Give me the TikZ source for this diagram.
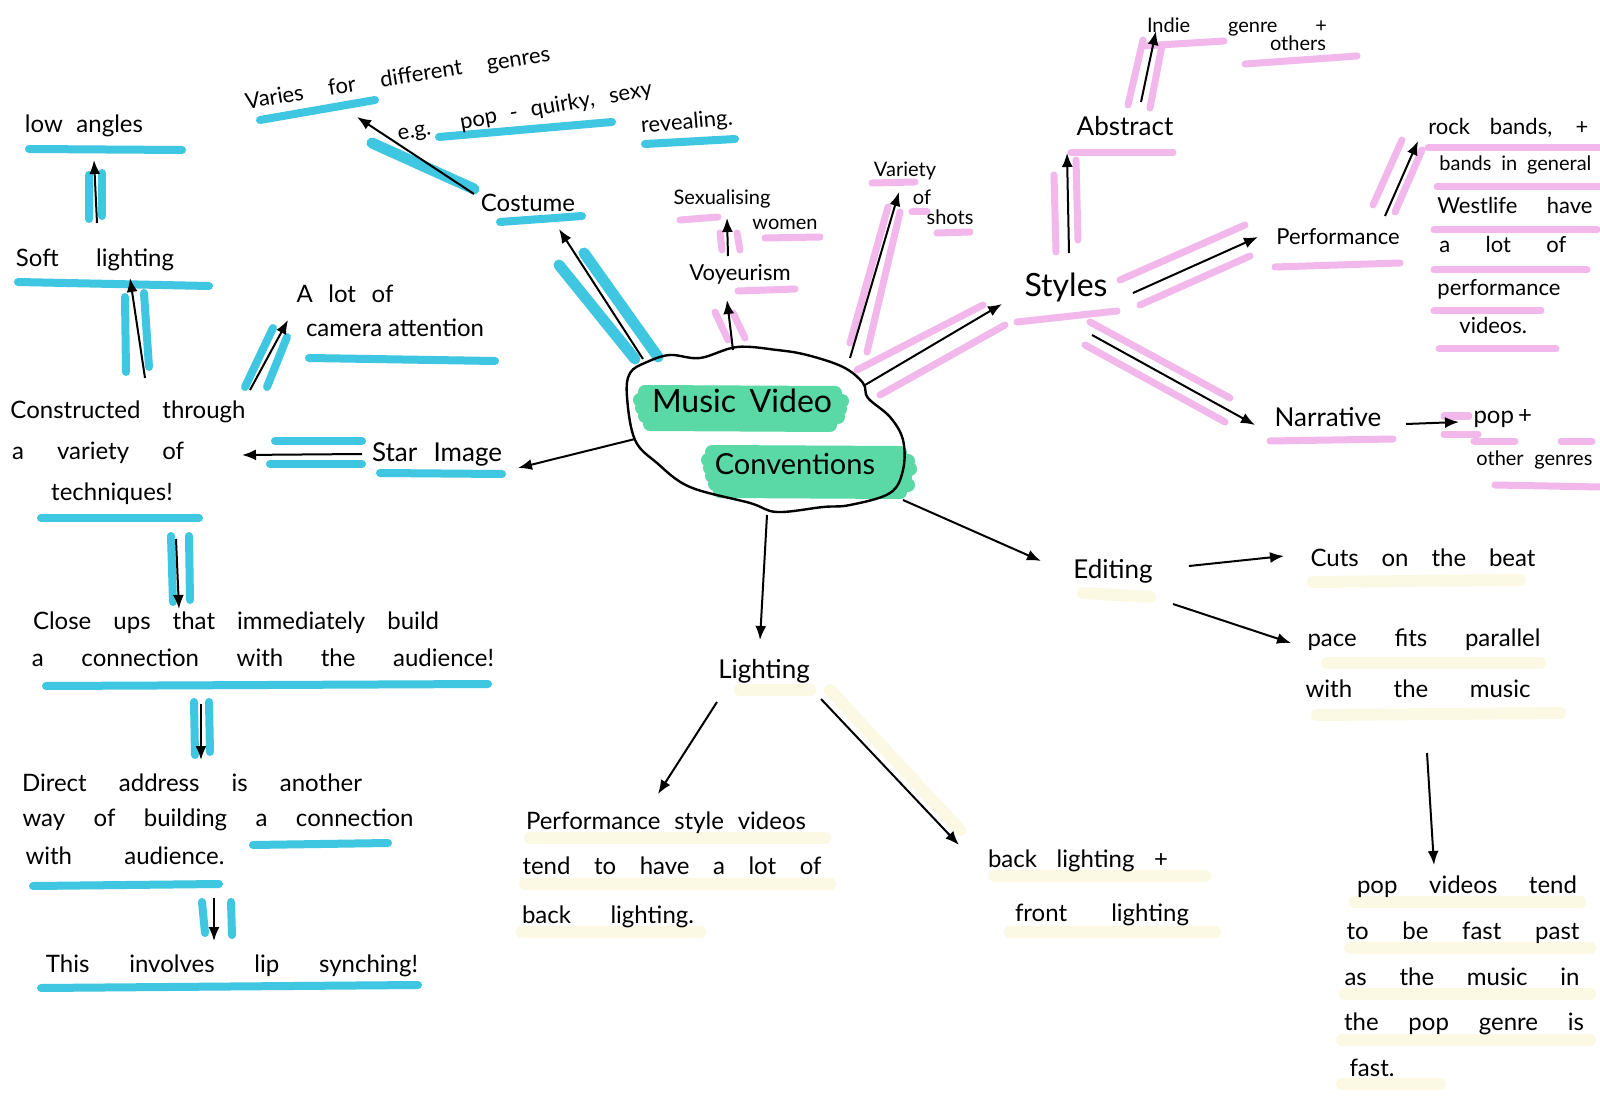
\documentclass[tikz,border=0pt]{standalone}
\usepackage{fontspec}
\setmainfont{Lato}
\usetikzlibrary{arrows.meta,calc}
\definecolor{hcyan}{HTML}{3FC6E0}
\definecolor{hpink}{HTML}{F2B8EC}
\definecolor{hgreen}{HTML}{5AD8A6}
\definecolor{hyel}{HTML}{FBF9E3}
\newdimen\pxu \pxu=0.5pt
\newcommand{\hwl}[2]{\makebox[#1\pxu][s]{#2}}
\tikzset{
  txt/.style={inner sep=0pt, text height=.75em, text depth=.25em, font=\fontsize{12}{14}\selectfont},
  rk/.style={txt, font=\fontsize{11}{13}\selectfont},
  sml/.style={txt, font=\fontsize{10}{12}\selectfont},
  lbl/.style={txt, font=\fontsize{13}{15}\selectfont},
  big/.style={txt, font=\fontsize{16}{19}\selectfont},
  arr/.style={-{Latex[length=7pt,width=5.5pt]}, line width=1pt, black},
  hc/.style={line width=4pt, line cap=round, hcyan},
  hcb/.style={line width=5.5pt, line cap=round, hcyan},
  hp/.style={line width=3.5pt, line cap=round, hpink},
  hy/.style={line width=6pt, line cap=round, hyel},
  hg/.style={line width=7pt, line cap=round, hgreen},
}
\begin{document}
\begin{tikzpicture}[x=0.5pt,y=-0.5pt]
\useasboundingbox (0,0) rectangle (1600,1101);
\clip (0,0) rectangle (1600,1101);
\fill[white] (0,0) rectangle (1600,1101);

% ---------- cyan highlights ----------
\draw[hc] (29,149) -- (182,150);
\draw[hc] (89,175) -- (89,219);  \draw[hc] (102,173) -- (102,216);
\draw[hc] (18,282) -- (209,286);
\draw[hc] (125,297) -- (126,372); \draw[hc] (144,293) -- (149,367);
\draw[hc] (245,387) -- (273,328); \draw[hc] (267,387) -- (287,337);
\draw[hc] (309,358) -- (495,361);
\draw[hc] (41,518) -- (199,518);
\draw[hc] (275,441) -- (362,441); \draw[hc] (270,464) -- (362,464);
\draw[hc] (380,473) -- (502,474);
\draw[hc] (171,536) -- (173,602); \draw[hc] (189,536) -- (190,600);
\draw[hc] (46,686) -- (488,684);
\draw[hc] (194,702) -- (195,755); \draw[hc] (209,702) -- (210,752);
\draw[hc] (253,845) -- (388,843);
\draw[hc] (33,886) -- (219,884);
\draw[hc] (202,902) -- (205,933); \draw[hc] (231,902) -- (232,935);
\draw[hc] (41,988) -- (418,985);
\draw[hc] (500,222) -- (582,216);
\draw[hcb] (559,265) -- (635,359); \draw[hcb] (584,253) -- (658,357);
\draw[hcb] (372,143) -- (474,189);
\draw[hc] (260,120) -- (375,100);
\draw[hc] (439,137) -- (612,122);
\draw[hc] (645,144) -- (735,139);

% ---------- pink highlights ----------
\draw[hp] (738,291) -- (795,289);
\draw[hp] (715,312) -- (728,340); \draw[hp] (733,313) -- (745,338);
\draw[hp] (680,220) -- (718,217); \draw[hp] (765,238) -- (820,237);
\draw[hp] (720,233) -- (722,250); \draw[hp] (737,233) -- (740,250);
\draw[hp] (872,183) -- (915,182); \draw[hp] (912,212) -- (927,212); \draw[hp] (937,233) -- (970,232);
\draw[hp] (850,343) -- (888,207); \draw[hp] (867,352) -- (900,212);
\draw[hp] (857,370) -- (983,305); \draw[hp] (880,395) -- (1005,325);
\draw[hp] (1017,322) -- (1117,311);
\draw[hp] (1071,153) -- (1173,153);
\draw[hp] (1054,175) -- (1056,252); \draw[hp] (1076,160) -- (1078,240);
\draw[hp] (1128,105) -- (1143,40); \draw[hp] (1150,108) -- (1162,45);
\draw[hp] (1143,46) -- (1224,41); \draw[hp] (1245,64) -- (1357,56);
\draw[hp] (1120,280) -- (1245,225); \draw[hp] (1140,305) -- (1250,256);
\draw[hp] (1275,267) -- (1400,263);
\draw[hp] (1373,205) -- (1402,140); \draw[hp] (1395,212) -- (1422,150);
\draw[hp] (1428,148) -- (1600,148);
\draw[hp] (1437,187) -- (1600,187);
\draw[hp] (1434,230) -- (1597,230);
\draw[hp] (1434,270) -- (1587,270);
\draw[hp] (1434,311) -- (1541,311);
\draw[hp] (1439,349) -- (1556,349);
\draw[hp] (1090,322) -- (1230,398); \draw[hp] (1085,345) -- (1225,422);
\draw[hp] (1270,441) -- (1393,439);
\draw[hp] (1444,416) -- (1469,416); \draw[hp] (1444,434) -- (1478,434);
\draw[hp] (1474,441) -- (1515,441); \draw[hp] (1561,441) -- (1592,441);
\draw[hp] (1495,485) -- (1600,487);

% ---------- pale yellow highlights ----------
\draw[hy] (1083,593) -- (1150,597);
\draw[hy] (1313,582) -- (1520,580);
\draw[hy] (1327,663) -- (1540,663);
\draw[hy] (1317,715) -- (1560,713);
\draw[hy] (1355,902) -- (1580,902);
\draw[hy] (1350,948) -- (1590,948);
\draw[hy] (1345,994) -- (1590,994);
\draw[hy] (1342,1040) -- (1590,1040);
\draw[hy] (1342,1084) -- (1440,1084);
\draw[hy] (740,690) -- (810,690);
\draw[hy] (530,838) -- (825,838);
\draw[hy] (525,884) -- (830,884);
\draw[hy] (522,932) -- (700,932);
\draw[hy] (995,876) -- (1205,876);
\draw[hy] (1010,932) -- (1215,932);
\draw[hy] (830,690) -- (960,830);

% ---------- centre cloud ----------
\foreach \yy/\xa/\xb in {392/645/835, 400/640/842, 408/642/840, 416/645/838, 424/650/830}
  \draw[hg] (\xa,\yy) -- (\xb,\yy+1);
\foreach \yy/\xa/\xb in {452/712/900, 460/708/908, 468/710/910, 476/712/905, 484/715/908, 491/720/900}
  \draw[hg] (\xa,\yy) -- (\xb,\yy+1);
\draw[line width=1.2pt] plot[smooth cycle, tension=0.6] coordinates {
 (627,397) (630,373) (647,362) (670,355) (700,358) (737,347) (777,350)
 (807,355) (843,367) (863,383) (868,398) (890,417) (903,440) (903,470)
 (890,493) (850,505) (823,507) (777,512) (750,503) (690,487) (657,463) (635,440)};
\coordinate (cloud) at (765,430);
\node[big] (mv) at (742,408) {\hwl{180}{Music Video}};
\node[txt, font=\fontsize{14.5}{17}\selectfont] (conv) at (795,469) {Conventions};

% ---------- left branch ----------
\node[txt] (low) at (84,128) {\hwl{118}{low angles}};
\node[txt] (soft) at (95,262) {\hwl{158}{Soft lighting}};
\node[txt] (alot1) at (345,298) {\hwl{97}{A lot of}};
\node[txt] (alot2) at (395,332) {\hwl{178}{camera attention}};
\node[txt] (con1) at (128,413) {\hwl{235}{Constructed through}};
\node[txt] (con2) at (98,454) {\hwl{172}{a variety of}};
\node[txt] (con3) at (112,495) {techniques!};
\node[lbl] (star) at (437,456) {\hwl{130}{Star Image}};
\node[txt] (cu1) at (236,624) {\hwl{406}{Close ups that immediately build}};
\node[txt] (cu2) at (263,661) {\hwl{462}{a connection with the audience!}};
\node[txt] (da1) at (192,786) {\hwl{340}{Direct address is another}};
\node[txt] (da2) at (218,821) {\hwl{391}{way of building a connection}};
\node[txt] (da3) at (125,859) {\hwl{199}{with audience.}};
\node[txt] (lip) at (232,967) {\hwl{372}{This involves lip synching!}};

% ---------- costume ----------
\node[txt, font=\fontsize{12}{14}\selectfont] (costume) at (528,207) {Costume};
\node[txt, font=\fontsize{11}{13}\selectfont, rotate=9] (varies) at (398,80) {\hwl{308}{Varies for different genres}};
\node[txt, font=\fontsize{11}{13}\selectfont, rotate=10] (eg) at (525,113) {\hwl{258}{e.g. pop - quirky, sexy}};
\node[txt, font=\fontsize{11}{13}\selectfont, rotate=5] (reveal) at (687,124) {revealing.};

% ---------- voyeurism / variety ----------
\node[txt, font=\fontsize{11}{13}\selectfont] (voy) at (740,276) {Voyeurism};
\node[sml] (sex1) at (722,200) {Sexualising};
\node[sml] (sex2) at (785,225) {women};
\node[sml] (var1) at (905,172) {Variety};
\node[sml] (var2) at (922,200) {of};
\node[sml] (var3) at (950,220) {shots};

% ---------- styles ----------
\node[big] (styles) at (1066,292) {Styles};
\node[lbl] (abstract) at (1125,131) {Abstract};
\node[sml] (indie1) at (1237,28) {\hwl{180}{Indie genre +}};
\node[sml] (indie2) at (1298,46) {others};
\node[txt, font=\fontsize{11}{13}\selectfont] (perf) at (1338,240) {Performance};
\node[rk, anchor=west] (rock1) at (1428,130) {\hwl{160}{rock bands, +}};
\node[sml, anchor=west] (rock2) at (1439,166) {\hwl{152}{bands in general}};
\node[rk, anchor=west] (rock3) at (1437,209) {\hwl{155}{Westlife have}};
\node[rk, anchor=west] (rock4) at (1439,248) {\hwl{127}{a lot of}};
\node[rk, anchor=west] (rock5) at (1437,291) {performance};
\node[rk, anchor=west] (rock6) at (1459,329) {videos.};
\node[lbl] (narr) at (1328,421) {Narrative};
\node[txt] (pop1) at (1502,418) {\hwl{57}{pop +}};
\node[sml, anchor=west] (pop2) at (1476,461) {\hwl{116}{other genres}};

% ---------- editing ----------
\node[lbl] (edit) at (1113,573) {Editing};
\node[txt] (cuts) at (1423,561) {\hwl{225}{Cuts on the beat}};
\node[txt] (pace1) at (1424,641) {\hwl{233}{pace fits parallel}};
\node[txt] (pace2) at (1418,692) {\hwl{225}{with the music}};
\node[txt] (pv1) at (1467,888) {\hwl{220}{pop videos tend}};
\node[txt] (pv2) at (1463,934) {\hwl{233}{to be fast past}};
\node[txt] (pv3) at (1462,980) {\hwl{235}{as the music in}};
\node[txt] (pv4) at (1464,1025) {\hwl{240}{the pop genre is}};
\node[txt] (pv5) at (1372,1071) {fast.};

% ---------- lighting ----------
\node[lbl] (light) at (764,673) {Lighting};
\node[txt] (ps1) at (666,824) {\hwl{280}{Performance style videos}};
\node[txt] (ps2) at (672,869) {\hwl{299}{tend to have a lot of}};
\node[txt] (ps3) at (608,918) {\hwl{172}{back lighting.}};
\node[txt] (bl1) at (1078,862) {\hwl{180}{back lighting +}};
\node[txt] (bl2) at (1102,916) {\hwl{174}{front lighting}};

% ---------- connectors ----------
\draw[arr] ($(soft)+(2,-39)$) -- ($(low)+(10,32)$);
\draw[arr] ($(con1)+(17,-35)$) -- ($(soft)+(35,16)$);
\draw[arr] ($(con1)+(122,-23)$) -- ($(alot1)+(-57,22)$);
\draw[arr] ($(star)+(-75,-2)$) -- ($(con2)+(144,1)$);
\draw[arr] ($(cloud)+(-130,9)$) -- ($(star)+(81,12)$);
\draw[arr] ($(con3)+(64,44)$) -- ($(cu1)+(-57,-15)$);
\draw[arr] ($(cu2)+(-62,43)$) -- ($(da1)+(9,-26)$);
\draw[arr] ($(da3)+(89,39)$) -- ($(lip)+(-18,-26)$);
\draw[arr] ($(cloud)+(-122,-71)$) -- ($(costume)+(31,22)$);
\draw[arr] ($(costume)+(-54,-13)$) -- ($(varies)+(-41,37)$);
\draw[arr] ($(cloud)+(-32,-80)$) -- ($(voy)+(-13,24)$);
\draw[arr] ($(voy)+(-12,-20)$) -- ($(sex1)+(5,18)$);
\draw[arr] ($(cloud)+(85,-72)$) -- ($(var1)+(-6,20)$);
\draw[arr] ($(cloud)+(100,-45)$) -- ($(styles)+(-64,12)$);
\draw[arr] ($(styles)+(3,-39)$) -- ($(abstract)+(-58,22)$);
\draw[arr] ($(abstract)+(16,-29)$) -- ($(indie1)+(-81,3)$);
\draw[arr] ($(styles)+(67,1)$) -- ($(perf)+(-80,-3)$);
\draw[arr] ($(perf)+(47,-24)$) -- ($(rock1.west)+(-10,11)$);
\draw[arr] ($(styles)+(26,43)$) -- ($(narr)+(-73,4)$);
\draw[arr] ($(narr)+(78,3)$) -- ($(pop1)+(-43,4)$);
\draw[arr] ($(cloud)+(138,70)$) -- ($(edit)+(-72,-12)$);
\draw[arr] ($(edit)+(76,-7)$) -- ($(cuts)+(-139,-5)$);
\draw[arr] ($(edit)+(60,31)$) -- ($(pace1)+(-133,2)$);
\draw[arr] ($(pace2)+(9,61)$) -- ($(pv1)+(-33,-23)$);
\draw[arr] ($(cloud)+(2,85)$) -- ($(light)+(-4,-33)$);
\draw[arr] ($(light)+(-47,29)$) -- ($(ps1)+(-8,-30)$);
\draw[arr] ($(light)+(57,26)$) -- ($(bl1)+(-119,-17)$);
\end{tikzpicture}
\end{document}
